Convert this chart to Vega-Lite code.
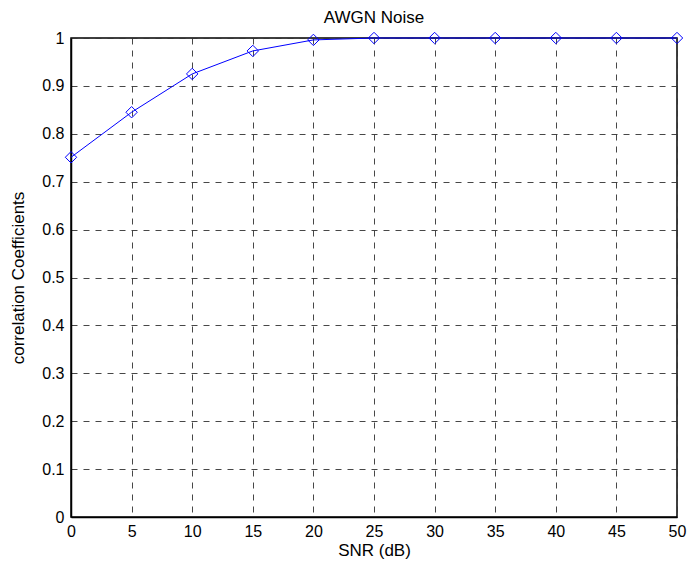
{
  "$schema": "https://vega.github.io/schema/vega-lite/v6.json",
  "width": 606,
  "height": 479,
  "autosize": {"type": "none"},
  "padding": {"left": 71, "top": 38, "right": 11, "bottom": 55},
  "background": "white",
  "title": {"text": "AWGN Noise", "font": "Liberation Sans", "fontSize": 17, "fontWeight": "normal", "color": "#000", "offset": 3},
  "config": {
    "view": {"stroke": "#000", "strokeWidth": 1.5},
    "axis": {
      "labelFont": "Liberation Sans", "labelFontSize": 16, "labelColor": "#000", "labelFlush": false,
      "titleFont": "Liberation Sans", "titleFontSize": 17, "titleFontWeight": "normal", "titleColor": "#000",
      "grid": true, "gridColor": "#333", "gridDash": [6, 6], "gridWidth": 1, "gridOpacity": 0.9,
      "domainColor": "#000", "domainWidth": 1.5, "tickColor": "#000", "tickSize": 0
    }
  },
  "data": {"values": [
    {"snr": 0, "c": 0.751},
    {"snr": 5, "c": 0.845},
    {"snr": 10, "c": 0.925},
    {"snr": 15, "c": 0.973},
    {"snr": 20, "c": 0.996},
    {"snr": 25, "c": 1.0},
    {"snr": 30, "c": 1.0},
    {"snr": 35, "c": 1.0},
    {"snr": 40, "c": 1.0},
    {"snr": 45, "c": 1.0},
    {"snr": 50, "c": 1.0}
  ]},
  "encoding": {
    "x": {"field": "snr", "type": "quantitative", "scale": {"domain": [0, 50], "nice": false, "zero": false},
      "axis": {"values": [0,5,10,15,20,25,30,35,40,45,50], "title": "SNR (dB)", "labelPadding": 6, "titlePadding": 3}},
    "y": {"field": "c", "type": "quantitative", "scale": {"domain": [0, 1], "nice": false},
      "axis": {"values": [0,0.1,0.2,0.3,0.4,0.5,0.6,0.7,0.8,0.9,1], "title": "correlation Coefficients", "labelPadding": 7, "titlePadding": 14, "labelExpr": "datum.value == 0 ? '0' : datum.value == 1 ? '1' : format(datum.value, '.1f')"}}
  },
  "layer": [
    {"mark": {"type": "line", "color": "#0000ff", "strokeWidth": 1, "clip": false}},
    {"mark": {"type": "point", "shape": "diamond", "size": 130, "color": "#0000ff", "filled": false, "strokeWidth": 1, "opacity": 1, "clip": false}}
  ]
}
